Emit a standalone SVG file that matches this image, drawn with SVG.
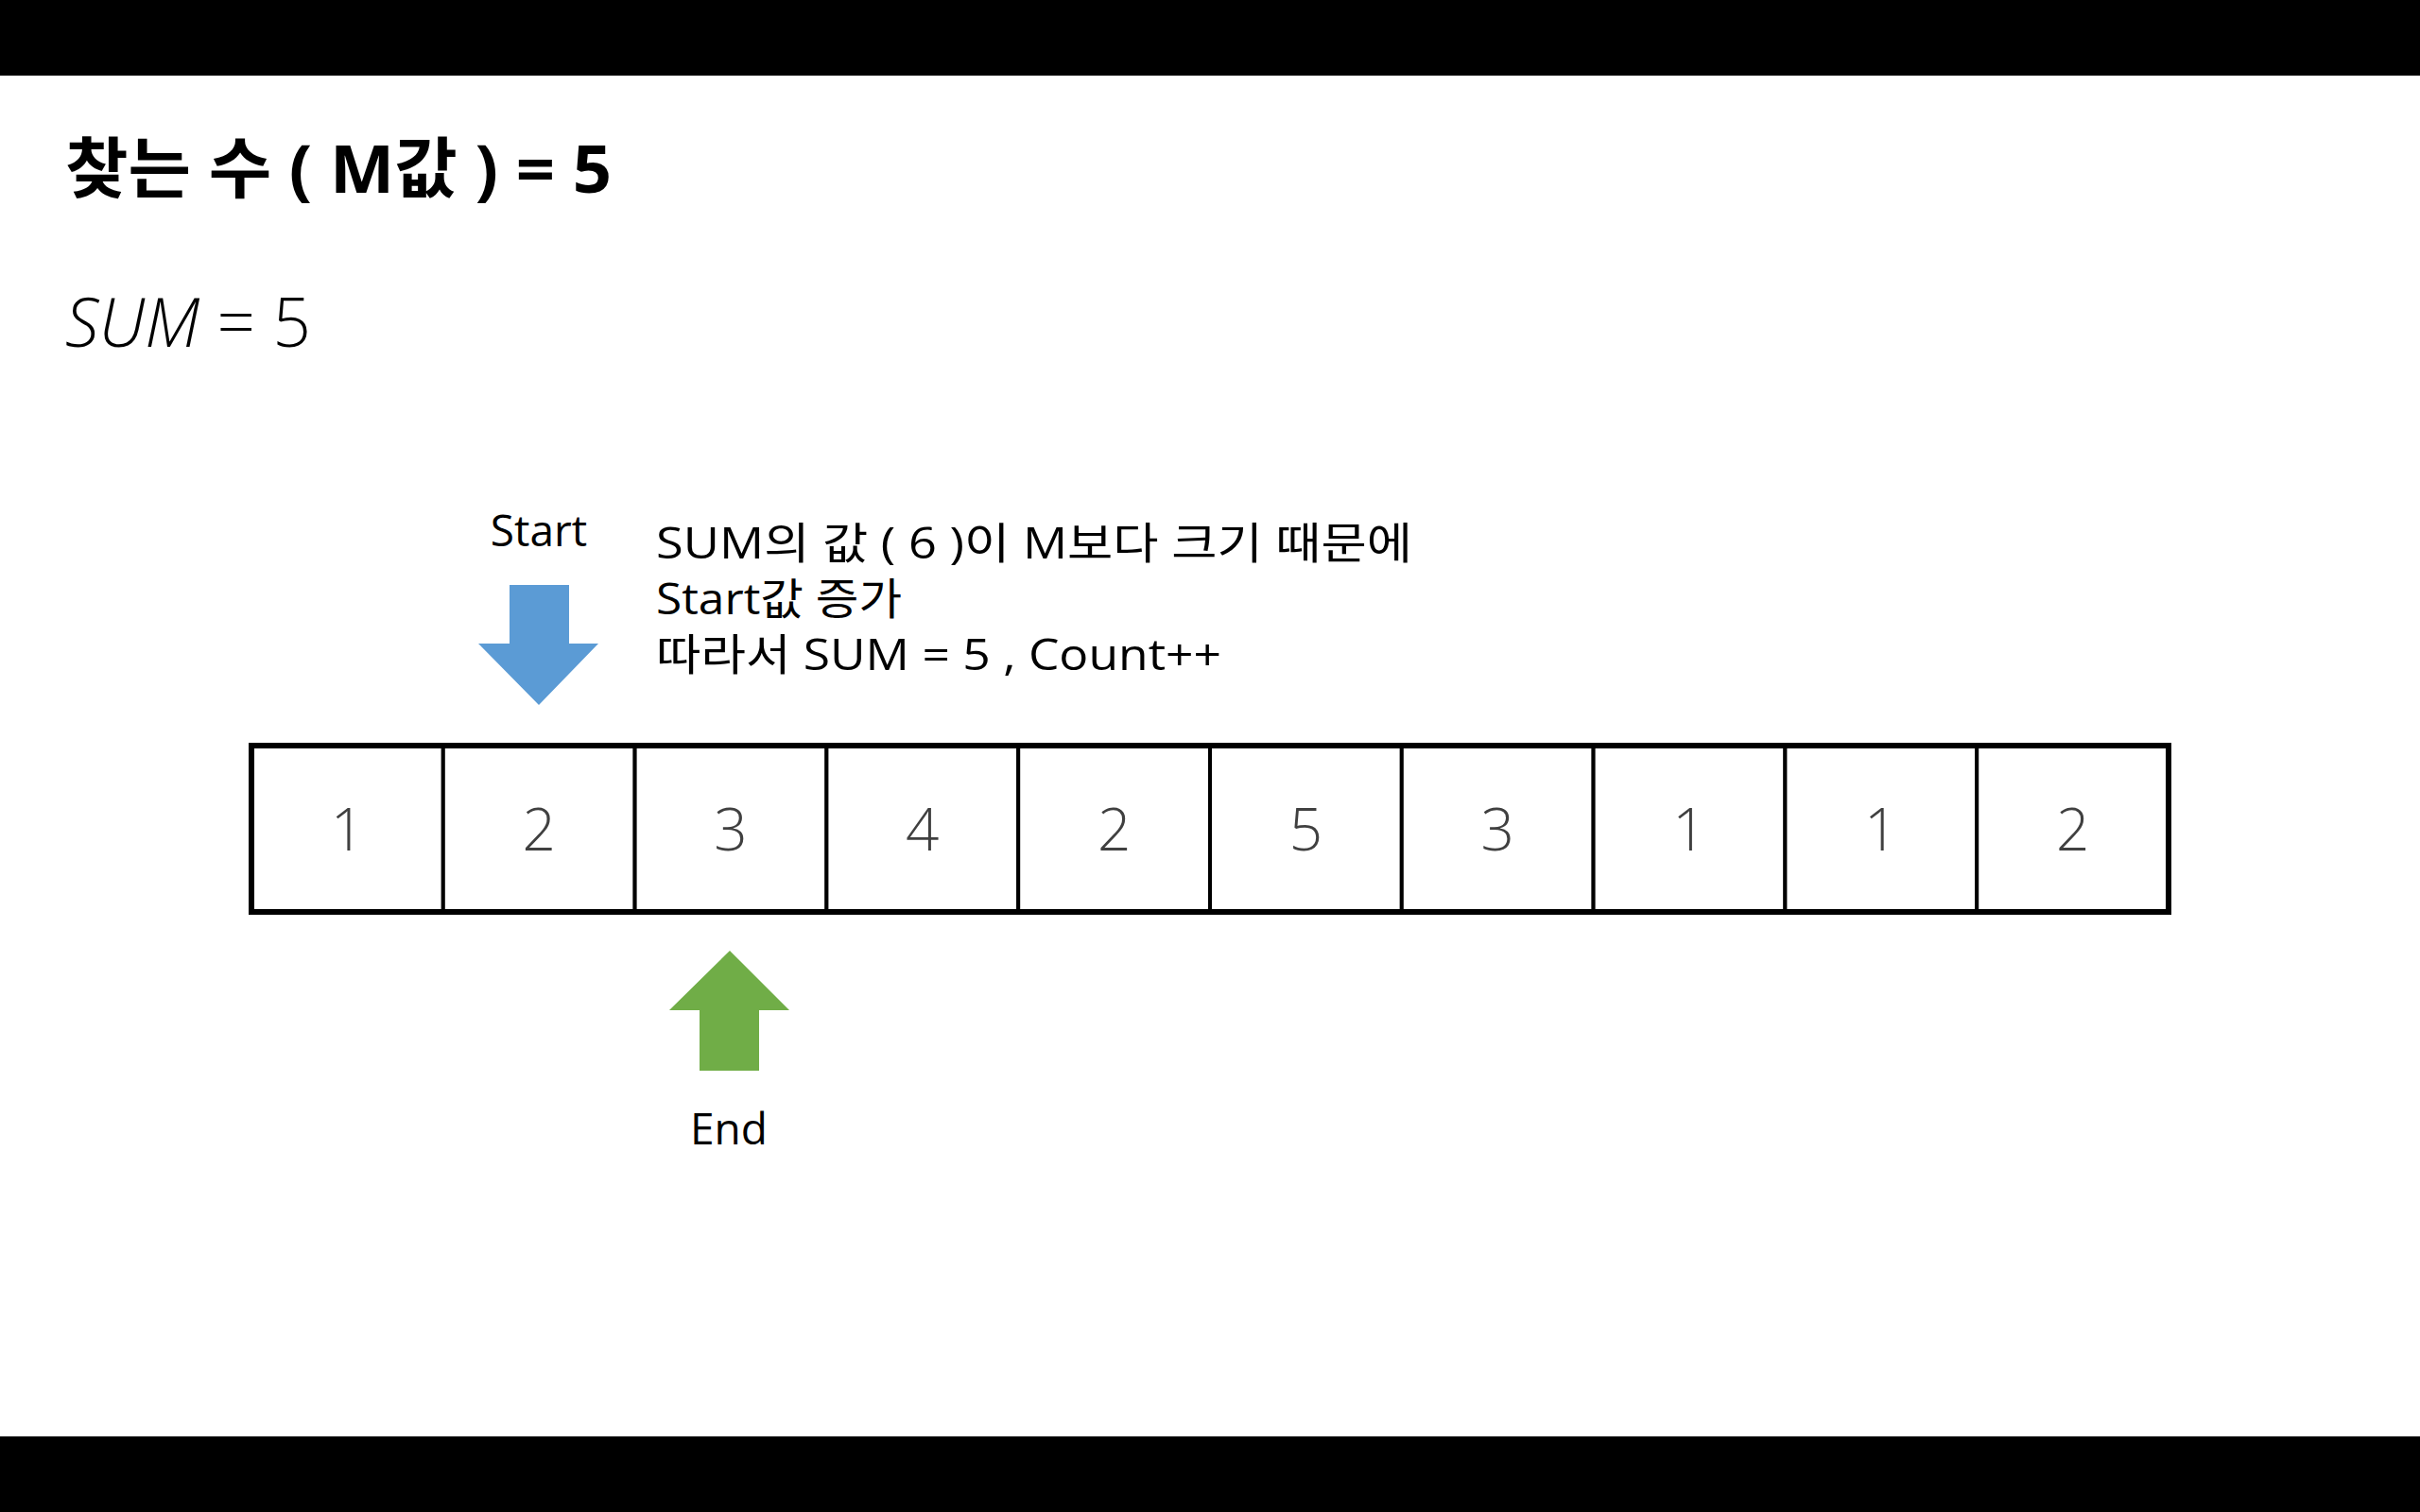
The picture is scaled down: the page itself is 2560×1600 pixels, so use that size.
<svg xmlns="http://www.w3.org/2000/svg" width="2560" height="1600" viewBox="0 0 2560 1600">
<style>
.t{font-family:"Open Sans","Noto Sans CJK KR",sans-serif;fill:#000}
.num{font-family:"Open Sans","Noto Sans CJK KR",sans-serif;font-size:62px;font-weight:300;fill:#404040;text-anchor:middle}
.cell{fill:#fff;stroke:#000;stroke-width:4}
.lbl{font-family:"Open Sans","Noto Sans CJK KR",sans-serif;font-size:46px;fill:#000;text-anchor:middle}
</style>
<rect x="0" y="0" width="2560" height="1600" fill="#fff"/>
<rect x="0" y="0" width="2560" height="80" fill="#000"/>
<rect x="0" y="1520" width="2560" height="80" fill="#000"/>

<g id="title">
<text class="t" x="69" y="204" font-size="70" font-weight="bold" textLength="578" lengthAdjust="spacingAndGlyphs">찾는 수 ( M값 ) = 5</text>
</g>
<g id="sum">
<text class="t" x="69" y="367" font-size="72" font-weight="300" textLength="260" lengthAdjust="spacingAndGlyphs"><tspan font-style="italic">SUM</tspan> = 5</text>
</g>

<g id="start-label"><text class="lbl" x="570" y="578">Start</text></g>
<g id="start-arrow"><polygon points="539,619 602,619 602,681 633,681 570,746 506,681 539,681" fill="#5B9BD5"/></g>

<g id="note">
<text class="t" x="694" y="591" font-size="46" textLength="800" lengthAdjust="spacingAndGlyphs">SUM의 값 ( 6 )이 M보다 크기 때문에</text>
<text class="t" x="694" y="650" font-size="46" textLength="260" lengthAdjust="spacingAndGlyphs">Start값 증가</text>
<text class="t" x="694" y="709" font-size="46" textLength="598" lengthAdjust="spacingAndGlyphs">따라서 SUM = 5 , Count++</text>
</g>

<g id="array">
<g id="c0"><rect class="cell" x="266" y="789" width="202.8" height="176"/><text class="num" x="367.4" y="900">1</text></g>
<g id="c1"><rect class="cell" x="468.8" y="789" width="202.8" height="176"/><text class="num" x="570.2" y="900">2</text></g>
<g id="c2"><rect class="cell" x="671.6" y="789" width="202.8" height="176"/><text class="num" x="773" y="900">3</text></g>
<g id="c3"><rect class="cell" x="874.4" y="789" width="202.8" height="176"/><text class="num" x="975.8" y="900">4</text></g>
<g id="c4"><rect class="cell" x="1077.2" y="789" width="202.8" height="176"/><text class="num" x="1178.6" y="900">2</text></g>
<g id="c5"><rect class="cell" x="1280" y="789" width="202.8" height="176"/><text class="num" x="1381.4" y="900">5</text></g>
<g id="c6"><rect class="cell" x="1482.8" y="789" width="202.8" height="176"/><text class="num" x="1584.2" y="900">3</text></g>
<g id="c7"><rect class="cell" x="1685.6" y="789" width="202.8" height="176"/><text class="num" x="1787" y="900">1</text></g>
<g id="c8"><rect class="cell" x="1888.4" y="789" width="202.8" height="176"/><text class="num" x="1989.8" y="900">1</text></g>
<g id="c9"><rect class="cell" x="2091.2" y="789" width="202.8" height="176"/><text class="num" x="2192.6" y="900">2</text></g>
<rect x="266" y="789" width="2028" height="176" fill="none" stroke="#000" stroke-width="6"/>
</g>

<g id="end-arrow"><polygon points="772,1006 835,1069 803,1069 803,1133 740,1133 740,1069 708,1069" fill="#70AD47"/></g>
<g id="end-label"><text class="lbl" x="771" y="1211">End</text></g>
<g id="connectors"/>
</svg>
